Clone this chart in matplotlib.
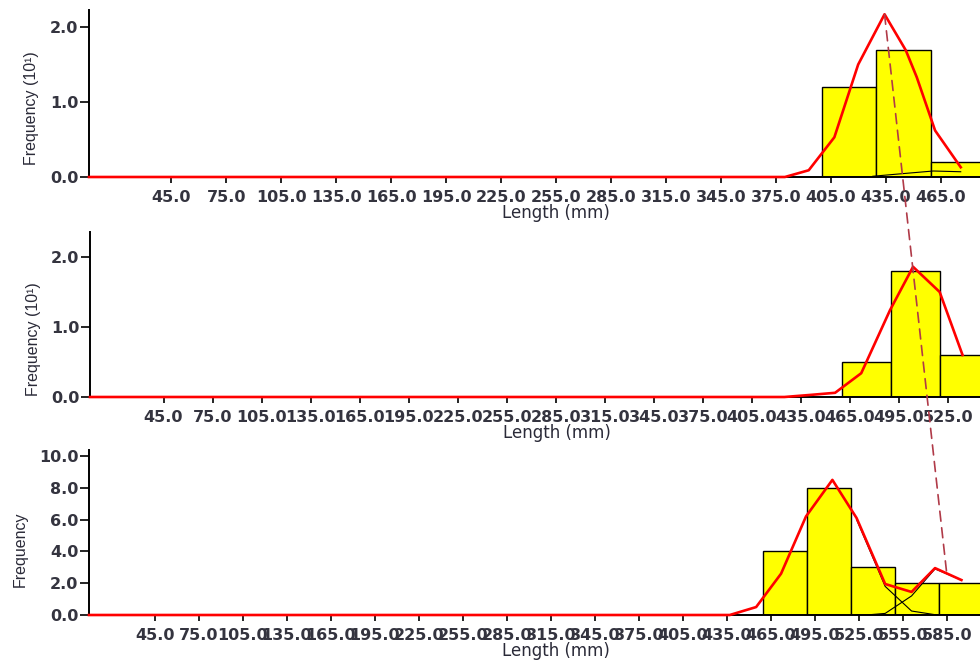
import matplotlib.pyplot as plt
from matplotlib.patches import ConnectionPatch

# length classes (lower edge, mm) and frequencies per sample
bin_width = 30.0
s1_edges = [400, 430, 460]
s1_freq = [1.2, 1.7, 0.2]          # x10
s2_edges = [460, 490, 520]
s2_freq = [0.5, 1.8, 0.6]          # x10
s3_edges = [460, 490, 520, 550, 580]
s3_freq = [4.0, 8.0, 3.0, 2.0, 2.0]

# fitted curves (sum of components)
s1_fit_x = [0, 380, 393, 407, 420, 434.4, 446, 452, 462, 476]
s1_fit_y = [0, 0, 0.09, 0.53, 1.50, 2.17, 1.69, 1.33, 0.62, 0.13]
s1_comp_x = [428, 442, 461, 476]
s1_comp_y = [0.01, 0.04, 0.08, 0.07]

s2_fit_x = [0, 425, 441, 456, 472, 489.6, 503.7, 520, 534]
s2_fit_y = [0, 0, 0.03, 0.06, 0.34, 1.24, 1.86, 1.50, 0.60]

s3_fit_x = [0, 437, 455, 472, 489, 507, 523.5, 543, 561, 577, 595]
s3_fit_y = [0, 0, 0.5, 2.6, 6.2, 8.5, 6.1, 1.95, 1.45, 2.95, 2.2]
s3_compA_x = [523.5, 543, 561, 577, 595]
s3_compA_y = [6.0, 1.8, 0.25, 0.02, 0.0]
s3_compB_x = [523.5, 530, 543, 561, 577, 595]
s3_compB_y = [0.0, 0.0, 0.1, 1.2, 2.9, 2.2]

# growth track joining the cohort modes
track_x = [434.4, 585.0]
track_y = [2.17, 2.6]

panels = [
    dict(edges=s1_edges, freq=s1_freq, fx=s1_fit_x, fy=s1_fit_y,
         comps=[(s1_comp_x, s1_comp_y)], xmax=510, ymax=2.227,
         yticks=[0, 1, 2], xticks_to=465, ylabel="Frequency (10¹)",
         pos=[89, 10, 177], ylab=(-0.053, 0.41)),
    dict(edges=s2_edges, freq=s2_freq, fx=s2_fit_x, fy=s2_fit_y,
         comps=[], xmax=571, ymax=2.357,
         yticks=[0, 1, 2], xticks_to=525, ylabel="Frequency (10¹)",
         pos=[90, 232, 397], ylab=(-0.053, 0.35)),
    dict(edges=s3_edges, freq=s3_freq, fx=s3_fit_x, fy=s3_fit_y,
         comps=[(s3_compA_x, s3_compA_y), (s3_compB_x, s3_compB_y)],
         xmax=637, ymax=10.38,
         yticks=[0, 2, 4, 6, 8, 10], xticks_to=585, ylabel="Frequency",
         pos=[89, 450, 615], ylab=(-0.066, 0.40)),
]

W, H = 980, 660
fig = plt.figure(figsize=(W / 100, H / 100), dpi=100)
tick_color = "#34343f"
axes = []
for p in panels:
    left, top, bottom = p["pos"]
    ax = fig.add_axes([left / W, 1 - bottom / H, (1023 - left) / W, (bottom - top) / H])
    ax.bar(p["edges"], p["freq"], width=bin_width, align="edge",
           color="#ffff00", edgecolor="black", linewidth=1.0, zorder=2)
    for cx, cy in p["comps"]:
        ax.plot(cx, cy, color="black", linewidth=0.8, zorder=3)
    ax.plot(p["fx"], p["fy"], color="#ff0000", linewidth=1.9, zorder=4,
            clip_on=False)
    ax.set_xlim(0, p["xmax"])
    ax.set_ylim(0, p["ymax"])
    ax.set_xticks(list(range(45, p["xticks_to"] + 1, 30)))
    ax.set_yticks(p["yticks"])
    ax.xaxis.set_major_formatter(plt.FormatStrFormatter("%.1f"))
    ax.yaxis.set_major_formatter(plt.FormatStrFormatter("%.1f"))
    for s in ("top", "right"):
        ax.spines[s].set_visible(False)
    for s in ("left", "bottom"):
        ax.spines[s].set_linewidth(1.4)
    ax.tick_params(axis="x", length=4.5, width=1.2, pad=4.5,
                   labelsize=11.5, labelcolor=tick_color)
    ax.tick_params(axis="y", length=6.5, width=1.2, pad=1,
                   labelsize=11.5, labelcolor=tick_color)
    for lab in ax.get_xticklabels() + ax.get_yticklabels():
        lab.set_fontweight("bold")
    ax.set_xlabel("Length (mm)", fontsize=12, color="#2a2a38", labelpad=-0.5)
    ax.set_ylabel(p["ylabel"], fontsize=11.5, family="Liberation Sans",
                  color="#2a2a38")
    ax.yaxis.set_label_coords(*p["ylab"])
    axes.append(ax)

track = ConnectionPatch(xyA=(track_x[0], track_y[0]), coordsA=axes[0].transData,
                        xyB=(track_x[1], track_y[1]), coordsB=axes[2].transData,
                        color="#b03a48", linewidth=1.2, linestyle=(0, (6, 4)),
                        zorder=10)
fig.add_artist(track)

fig.savefig("out.png", dpi=100)
